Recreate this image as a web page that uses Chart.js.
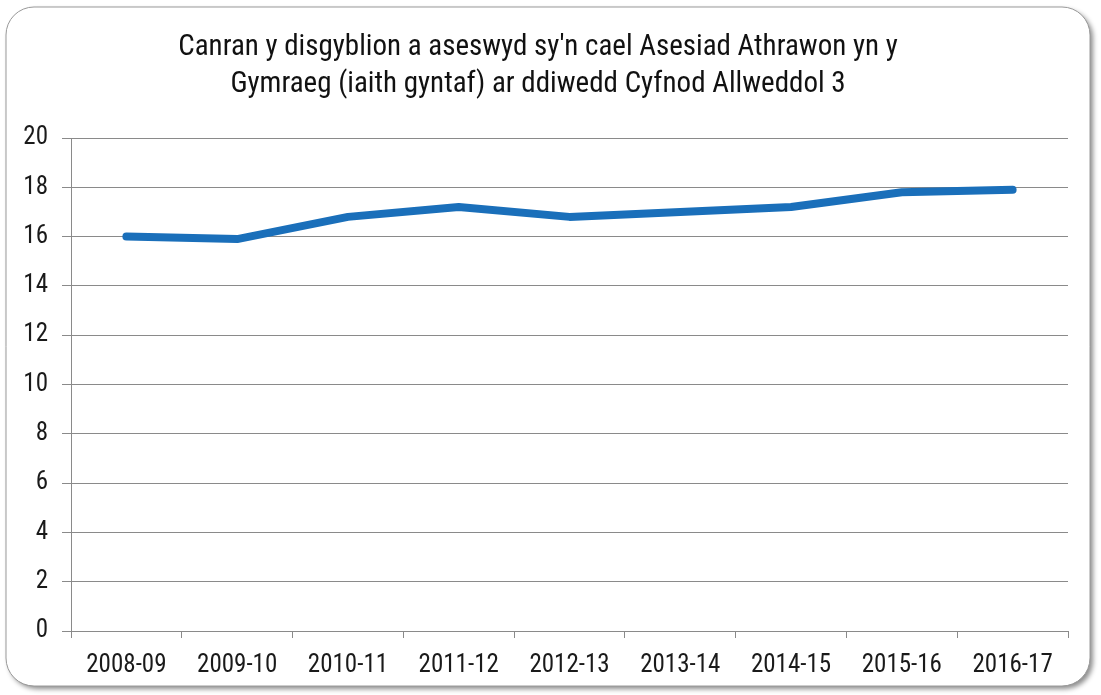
<!DOCTYPE html>
<html>
<head>
<meta charset="utf-8">
<script src="https://cdn.jsdelivr.net/npm/chart.js@4.4.1/dist/chart.umd.min.js"></script>
<style>
html,body{margin:0;padding:0;background:#ffffff;}
#wrap{width:1101px;height:695px;position:relative;}
canvas{display:block;}
</style>
</head>
<body>
<div id="wrap"><canvas id="c" width="1101" height="695"></canvas></div>
<script>
const categories = ['2008-09','2009-10','2010-11','2011-12','2012-13','2013-14','2014-15','2015-16','2016-17'];
const percentValues = [16.0, 15.9, 16.8, 17.2, 16.8, 17.0, 17.2, 17.8, 17.9];
const titleLines = ["Canran y disgyblion a aseswyd sy'n cael Asesiad Athrawon yn y", "Gymraeg (iaith gyntaf) ar ddiwedd Cyfnod Allweddol 3"];
const yMin = 0, yMax = 20, yStep = 2;

const FONT = "'Liberation Sans Narrow', 'Roboto Condensed', 'Arial Narrow', Roboto, sans-serif";

const framePlugin = {
  id: 'frame',
  beforeDraw(chart) {
    const ctx = chart.ctx;
    const x = 6, y = 7, w = 1084, h = 679, r = 28;
    ctx.save();
    ctx.fillStyle = '#ffffff';
    ctx.fillRect(0, 0, chart.width, chart.height);
    ctx.shadowColor = 'rgba(0,0,0,0.45)';
    ctx.shadowBlur = 5;
    ctx.shadowOffsetX = 3;
    ctx.shadowOffsetY = 3;
    ctx.beginPath();
    ctx.roundRect(x, y, w, h, r);
    ctx.fillStyle = '#ffffff';
    ctx.fill();
    ctx.shadowColor = 'transparent';
    ctx.lineWidth = 1;
    ctx.strokeStyle = '#9a9a9a';
    ctx.stroke();
    ctx.restore();
  }
};

new Chart(document.getElementById('c'), {
  type: 'line',
  data: {
    labels: categories,
    datasets: [{
      data: percentValues,
      borderColor: '#1a6fba',
      borderWidth: 8,
      borderCapStyle: 'round',
      borderJoinStyle: 'round',
      pointRadius: 0,
      pointHoverRadius: 0,
      tension: 0,
      fill: false
    }]
  },
  options: {
    responsive: false,
    animation: false,
    devicePixelRatio: 1,
    layout: { padding: { left: 8, right: 33, top: 0, bottom: 0 } },
    plugins: {
      legend: { display: false },
      tooltip: { enabled: false },
      title: {
        display: true,
        text: titleLines,
        color: '#111111',
        font: { family: FONT, size: 29, weight: 'normal', lineHeight: 1.276 },
        padding: { top: 29, bottom: 35 }
      }
    },
    scales: {
      x: {
        offset: true,
        grid: { offset: true, drawOnChartArea: false, drawTicks: true, tickLength: 7, color: '#8a8a8a', lineWidth: 1 },
        border: { display: true, color: '#8a8a8a', width: 1 },
        ticks: { color: '#1a1a1a', font: { family: FONT, size: 25 }, padding: 13, maxRotation: 0, autoSkip: false },
        afterFit(scale) { scale.height = 64; }
      },
      y: {
        min: yMin,
        max: yMax,
        grid: { color: '#8a8a8a', lineWidth: 1, tickLength: 9, drawTicks: true },
        border: { display: true, color: '#8a8a8a', width: 1 },
        ticks: { stepSize: yStep, color: '#1a1a1a', font: { family: FONT, size: 25 }, padding: 14 },
        afterFit(scale) { scale.width = 63; }
      }
    }
  },
  plugins: [framePlugin]
});
</script>
</body>
</html>
